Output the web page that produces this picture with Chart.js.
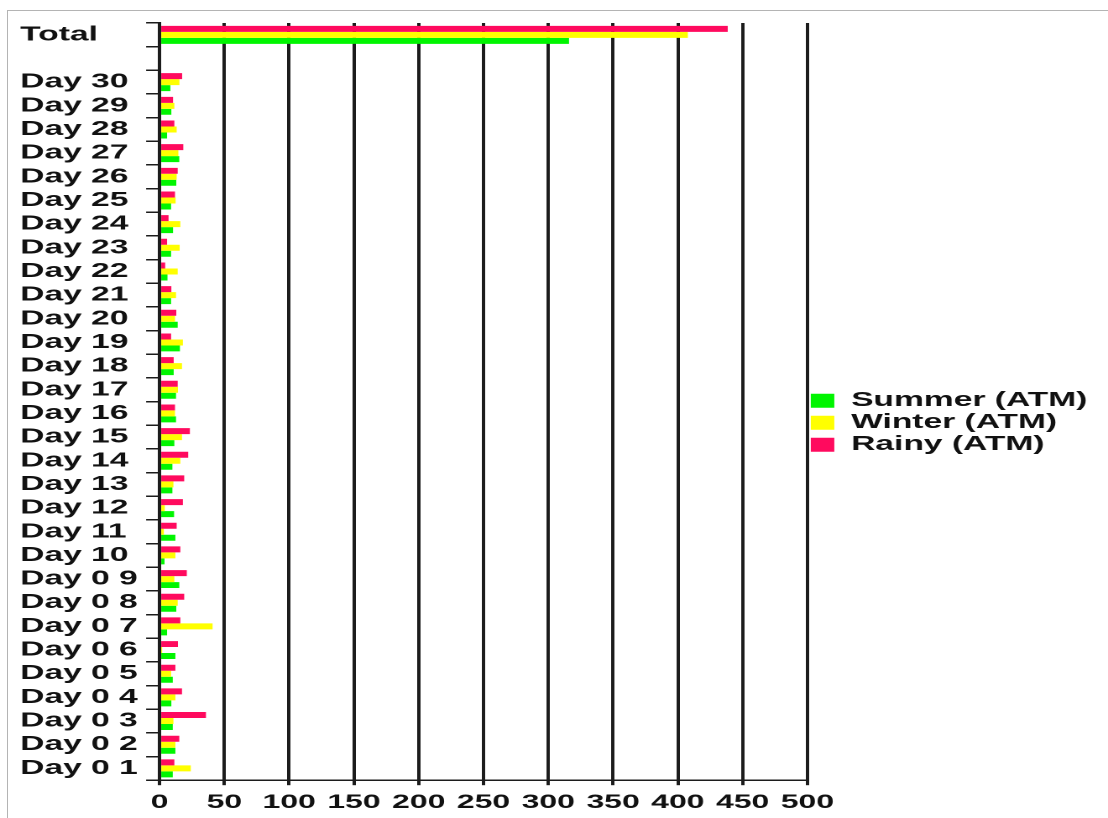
<!DOCTYPE html>
<html>
<head>
<meta charset="utf-8">
<title>ATM by season</title>
<script src="https://cdn.jsdelivr.net/npm/chart.js@4.4.1/dist/chart.umd.min.js"></script>
<style>
	html, body { margin: 0; padding: 0; background: #fff; overflow: hidden; }
	#frame {
		position: absolute; left: 7px; top: 10px; width: 1110px; height: 820px;
		border-left: 1px solid #b4b4b4; border-top: 1px solid #b4b4b4;
	}
	/* the source picture is stretched sideways, so the chart is drawn narrow and widened */
	#stage {
		position: absolute; left: 0; top: 0; width: 660px; height: 823px;
		transform: scaleX(1.6788); transform-origin: 0 0;
	}
</style>
</head>
<body>
<div id="frame"></div>
<div id="stage"><canvas id="atmChart"></canvas></div>
<script>
const categories = ['Total', '', 'Day 30', 'Day 29', 'Day 28', 'Day 27', 'Day 26', 'Day 25', 'Day 24', 'Day 23',
	'Day 22', 'Day 21', 'Day 20', 'Day 19', 'Day 18', 'Day 17', 'Day 16', 'Day 15', 'Day 14', 'Day 13',
	'Day 12', 'Day 11', 'Day 10', 'Day 0 9', 'Day 0 8', 'Day 0 7', 'Day 0 6', 'Day 0 5', 'Day 0 4',
	'Day 0 3', 'Day 0 2', 'Day 0 1'];

const rainy = [438.5, null, 17.4, 10.4, 11.4, 18.3, 14, 11.9, 6.9, 5.8, 4.3, 9.1, 12.9, 8.9, 10.9, 14,
	11.9, 23.4, 22.1, 19, 18, 13.2, 16, 21, 19, 16, 14.2, 12.2, 17.3, 35.8, 15.2, 11.4];
const winter = [407.7, null, 15.3, 11.4, 13.2, 14.5, 13.2, 12.4, 16, 15.5, 14, 12.7, 11.9, 18, 17.3, 14.2,
	11.9, 17.3, 16, 10.7, 4, 3.3, 12.2, 11.4, 14, 40.9, 2, 8.9, 12.2, 10.7, 12.2, 24.1];
const summer = [316, null, 8.3, 9.1, 5.8, 15.2, 12.9, 8.9, 10.4, 8.9, 6.1, 8.9, 14, 15.7, 10.9, 12.7,
	12.7, 11.4, 9.9, 9.9, 11.2, 12.2, 3.8, 15.2, 12.9, 5.8, 12.2, 10.2, 9.1, 10.2, 12.2, 10.2];

const xTicks = [0, 50, 100, 150, 200, 250, 300, 350, 400, 450, 500];

(() => {
	'use strict'

	const ctx = document.getElementById('atmChart');
	const ink = '#1c1c1c';
	const labelFont = { family: "'Liberation Sans', Arial, sans-serif", size: 20, weight: 'bold' };

	new Chart(ctx, {
		type: 'bar',
		data: {
			labels: categories,
			datasets: [
				{ label: 'Rainy (ATM)', data: rainy, backgroundColor: '#ff0a5e' },
				{ label: 'Winter (ATM)', data: winter, backgroundColor: '#ffff00' },
				{ label: 'Summer (ATM)', data: summer, backgroundColor: '#00f500' }
			]
		},
		options: {
			indexAxis: 'y',
			responsive: true,
			maintainAspectRatio: false,
			devicePixelRatio: 2,
			animation: false,
			categoryPercentage: 0.76,
			barPercentage: 1,
			layout: {
				padding: { left: 12, top: 23, right: 2.3, bottom: 3 }
			},
			plugins: {
				tooltip: { enabled: false },
				legend: {
					position: 'right',
					reverse: true,
					maxWidth: 220,
					// empty title, only used to push the key down a little
					title: {
						display: true,
						text: '',
						font: { size: 2 },
						padding: 0
					},
					labels: {
						color: '#111',
						font: labelFont,
						boxWidth: 14,
						boxHeight: 14,
						padding: 2
					}
				}
			},
			scales: {
				x: {
					min: 0,
					max: 500,
					afterBuildTicks: function(scale) {
						scale.ticks = xTicks.map((value) => ({ value }));
					},
					grid: {
						color: ink,
						lineWidth: 2,
						tickLength: 5
					},
					border: { color: ink, width: 1.5 },
					ticks: {
						color: '#111',
						font: { family: labelFont.family, size: 19, weight: 'bold' },
						padding: 6,
						maxRotation: 0,
						autoSkip: false
					}
				},
				y: {
					grid: {
						drawOnChartArea: false,
						color: ink,
						lineWidth: 1.5,
						tickLength: 8
					},
					border: { color: ink, width: 2 },
					ticks: {
						color: '#111',
						font: labelFont,
						crossAlign: 'far',
						padding: 2.5,
						autoSkip: false
					}
				}
			}
		}
	});
})()
</script>
</body>
</html>
